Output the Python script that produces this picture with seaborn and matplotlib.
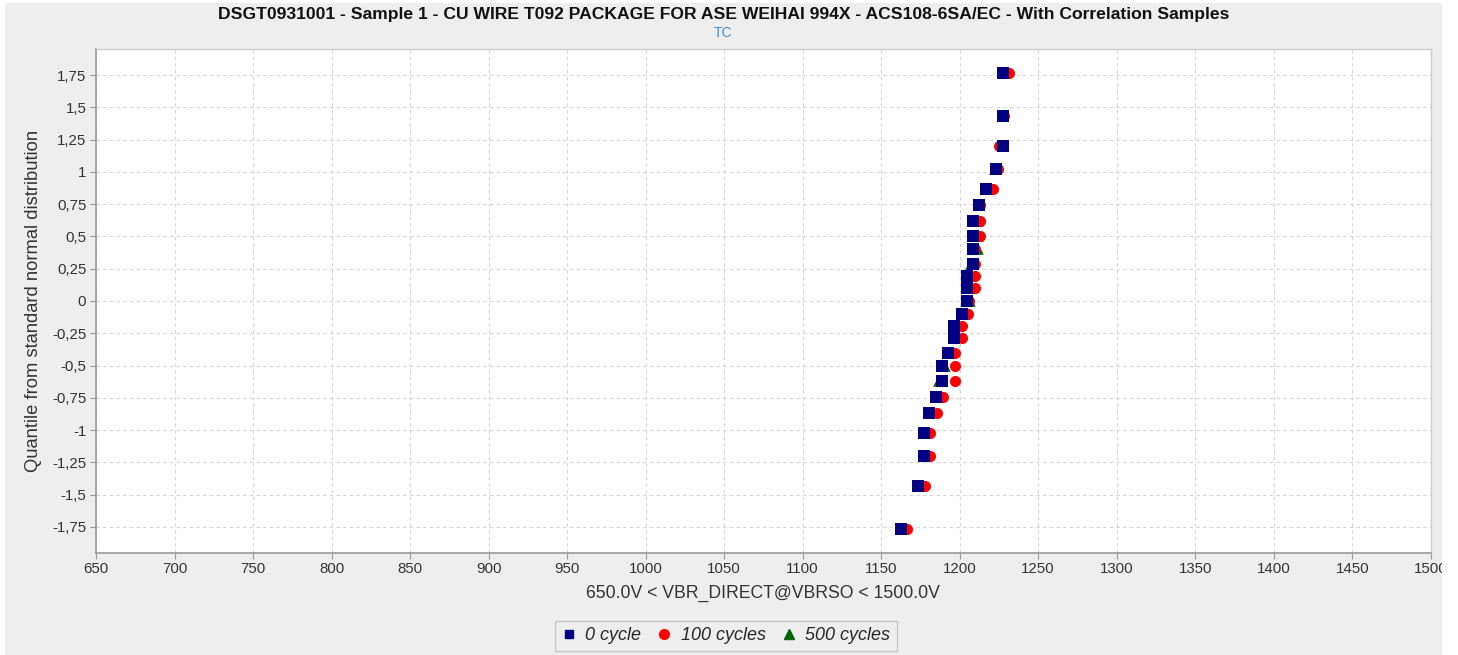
#!/usr/bin/env python3
# -*- coding: utf-8 -*-
"""Normal quantile plot of VBR_DIRECT for three cycle counts"""

import pandas as pd
import matplotlib.pyplot as plt
import matplotlib.patches as mpatches
from matplotlib.lines import Line2D
import seaborn as sns

# quantile from standard normal distribution (low to high)
quantiles = [-1.77, -1.43, -1.20, -1.02, -0.87, -0.74, -0.62, -0.50, -0.40, -0.29,
             -0.19, -0.10, 0.00, 0.10, 0.19, 0.29, 0.40, 0.50, 0.62, 0.74,
             0.87, 1.02, 1.20, 1.43, 1.77]

# VBR_DIRECT values (V) per series, sorted
vbr_0_cycle = [1162.4, 1173.7, 1177.3, 1177.3, 1180.3, 1184.9, 1188.8, 1188.8, 1192.4, 1196.2,
               1196.2, 1201.2, 1204.8, 1204.8, 1204.8, 1208.3, 1208.5, 1208.5, 1208.5, 1212.4,
               1217.0, 1223.4, 1227.4, 1227.4, 1227.4]
vbr_100_cycles = [1166.7, 1178.0, 1180.9, 1180.9, 1185.8, 1189.3, 1197.0, 1197.0, 1197.0, 1201.4,
                  1201.4, 1205.2, 1206.0, 1209.7, 1209.7, 1209.7, 1209.7, 1213.2, 1213.2, 1213.2,
                  1221.5, 1224.5, 1224.8, 1228.5, 1231.7]
vbr_500_cycles = [1162.4, 1173.7, 1177.3, 1177.3, 1180.3, 1185.0, 1186.0, 1191.0, 1192.0, 1196.2,
                  1196.2, 1201.5, 1206.6, 1206.6, 1206.6, 1206.6, 1212.0, 1212.0, 1212.0, 1212.0,
                  1217.0, 1222.0, 1227.0, 1227.0, 1227.0]

series_names = ['0 cycle', '100 cycles', '500 cycles']
x_ticks = list(range(650, 1501, 50))
y_ticks = [-1.75, -1.5, -1.25, -1, -0.75, -0.5, -0.25, 0, 0.25, 0.5, 0.75, 1, 1.25, 1.5, 1.75]

title = ('DSGT0931001 - Sample 1 - CU WIRE T092 PACKAGE FOR ASE WEIHAI 994X - '
         'ACS108-6SA/EC - With Correlation Samples')
subtitle = 'TC'
x_label = '650.0V < VBR_DIRECT@VBRSO < 1500.0V'
y_label = 'Quantile from standard normal distribution'


def fmt_comma(v):
    s = ('%g' % v)
    return s.replace('.', ',')


def main():
    sns.set_style('white')
    plt.rcParams['font.family'] = ['Liberation Sans', 'DejaVu Sans']

    fig = plt.figure(figsize=(14.58, 6.55), dpi=100, facecolor='white')
    # grey panel behind the chart, white strip on the right edge in front
    fig.patches.append(mpatches.Rectangle((5 / 1458, 0), 1437 / 1458, 652 / 655,
                                          transform=fig.transFigure, facecolor='#eeeeee',
                                          edgecolor='none', zorder=-10))
    fig.patches.append(mpatches.Rectangle((1442 / 1458, 0), 16 / 1458, 1,
                                          transform=fig.transFigure, facecolor='white',
                                          edgecolor='none', zorder=10))
    ax = fig.add_axes([96 / 1458, 1 - 552.7 / 655, (1430.7 - 96) / 1458, (552.7 - 49.3) / 655])
    ax.set_facecolor('white')

    df = pd.DataFrame({
        'quantile': quantiles * 3,
        'vbr': vbr_0_cycle + vbr_100_cycles + vbr_500_cycles,
        'series': [series_names[0]] * 25 + [series_names[1]] * 25 + [series_names[2]] * 25,
    })
    styles = {
        '0 cycle': ('s', '#000080', 5, 66),
        '100 cycles': ('o', '#ff0000', 4, 64),
        '500 cycles': ('^', '#006400', 3, 58),
    }
    for name in ['500 cycles', '100 cycles', '0 cycle']:
        marker, color, z, size = styles[name]
        sub = df[df['series'] == name]
        sns.scatterplot(x='vbr', y='quantile', data=sub, ax=ax, marker=marker, color=color,
                        s=size, linewidth=0, zorder=z, legend=False)

    ax.set_xlim(650, 1500)
    ax.set_ylim(-1.95, 1.95)
    ax.set_xticks(x_ticks)
    ax.set_yticks(y_ticks)
    ax.set_yticklabels([fmt_comma(v) for v in y_ticks])
    ax.grid(True, color='#d4d4d4', linestyle=(0, (3, 3)), linewidth=0.8)
    ax.set_axisbelow(True)
    ax.tick_params(axis='both', direction='out', length=4, width=0.8, color='#999999',
                   labelsize=10.8, labelcolor='#333333', left=True, bottom=True, pad=3)
    for side in ['left', 'bottom']:
        ax.spines[side].set_color('#999999')
        ax.spines[side].set_linewidth(1.2)
    for side in ['top', 'right']:
        ax.spines[side].set_color('#cccccc')
        ax.spines[side].set_linewidth(1.0)

    ax.set_xlabel(x_label, fontsize=12.7, color='#333333', labelpad=6)
    ax.set_ylabel(y_label, fontsize=13.2, color='#333333', labelpad=7)

    fig.text(723.5 / 1458, 1 - 14 / 655, title, ha='center', va='center',
             fontsize=12.6, fontweight='bold', color='#111111')
    fig.text(723.5 / 1458, 1 - 33 / 655, subtitle, ha='center', va='center',
             fontsize=10, color='#3d8fd1')

    handles = [
        Line2D([], [], linestyle='none', marker='s', color='#000080', markersize=6),
        Line2D([], [], linestyle='none', marker='o', color='#ff0000', markersize=7),
        Line2D([], [], linestyle='none', marker='^', color='#006400', markersize=7),
    ]
    leg = fig.legend(handles, series_names, loc='center', ncol=3,
                     bbox_to_anchor=(726 / 1458, 1 - 636 / 655),
                     prop={'style': 'italic', 'size': 13}, frameon=True, fancybox=False,
                     handlelength=0.8, handletextpad=0.5, columnspacing=0.9,
                     borderpad=0.35)
    leg.get_frame().set_edgecolor('#bbbbbb')
    leg.get_frame().set_facecolor('#eeeeee')
    leg.get_frame().set_linewidth(1.0)

    plt.savefig('out.png', dpi=100, facecolor=fig.get_facecolor())
    plt.close()


if __name__ == "__main__":
    main()
